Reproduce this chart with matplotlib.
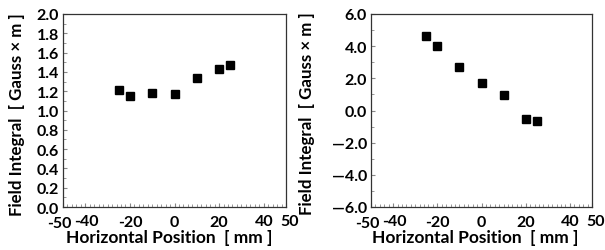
import matplotlib
matplotlib.use("Agg")
import matplotlib.pyplot as plt
from matplotlib.ticker import MultipleLocator, FixedLocator
from matplotlib.transforms import ScaledTranslation

plt.rcParams['font.family'] = ['Lato', 'DejaVu Sans']
plt.rcParams['font.weight'] = 'bold'

x_pos = [-25, -20, -10, 0, 10, 20, 25]
left_vals = [1.21, 1.155, 1.185, 1.17, 1.34, 1.43, 1.47]
right_vals = [4.62, 3.98, 2.72, 1.68, 0.98, -0.51, -0.63]

x_ticks = [-50, -40, -20, 0, 20, 40, 50]
left_yticks = [0.0, 0.2, 0.4, 0.6, 0.8, 1.0, 1.2, 1.4, 1.6, 1.8, 2.0]
right_yticks = [-6.0, -4.0, -2.0, 0.0, 2.0, 4.0, 6.0]

xlabel = "Horizontal Position  [ mm ]"
ylabel = "Field Integral  [ Gauss \u00d7 m ]"

fig = plt.figure(figsize=(6.05, 2.51), dpi=100)
W, H = 605, 251
axL = fig.add_axes([63 / W, 1 - 208 / H, (286 - 63) / W, (208 - 15) / H])
axR = fig.add_axes([371 / W, 1 - 208 / H, (592 - 371) / W, (208 - 15) / H])

# small pixel shifts of individual x tick labels, as in the reference
label_shift = {-50: (-4, -1), -40: (1, 1.5), 40: (0, 1.5), 50: (4, 1.5)}

def style(ax, yticks, ylim, yminor, fmt, ylab_x, ylab_y, xlab_x):
    ax.set_xlim(-50, 50)
    ax.set_ylim(*ylim)
    ax.xaxis.set_major_locator(FixedLocator(x_ticks))
    ax.set_xticklabels([str(t) for t in x_ticks])
    ax.xaxis.set_minor_locator(MultipleLocator(2))
    ax.yaxis.set_major_locator(FixedLocator(yticks))
    ax.set_yticklabels([fmt(t) for t in yticks])
    ax.yaxis.set_minor_locator(MultipleLocator(yminor))
    ax.tick_params(which='both', direction='in', color='#888888', labelsize=11.5)
    ax.tick_params(which='major', length=3, width=0.8, pad=3)
    ax.tick_params(which='minor', length=2, width=0.6)
    ax.tick_params(axis='x', which='major', pad=6)
    ax.tick_params(axis='y', which='both', right=False)
    ax.tick_params(axis='x', which='both', top=False)
    for s in ax.spines.values():
        s.set_color('#333333')
        s.set_linewidth(0.9)
    ax.set_xlabel(xlabel, fontsize=12.5, fontweight='bold')
    ax.set_ylabel(ylabel, fontsize=12.2, fontweight='bold')
    ax.yaxis.set_label_coords(ylab_x, ylab_y)
    ax.xaxis.set_label_coords(xlab_x, -0.115)
    for t, lab in zip(x_ticks, ax.get_xticklabels()):
        if t in label_shift:
            dx, dy = label_shift[t]
            lab.set_transform(lab.get_transform() +
                              ScaledTranslation(dx / 100, dy / 100, fig.dpi_scale_trans))

def fmt_right(t):
    if t < 0:
        return "\u2014" + f"{abs(t):.1f}"
    return f"{t:.1f}"

axL.plot(x_pos, left_vals, 's', color='black', markersize=5.5, linestyle='none')
axR.plot(x_pos, right_vals, 's', color='black', markersize=5.5, linestyle='none')
style(axL, left_yticks, (0, 2.0), 0.1, lambda t: f"{t:.1f}", -0.172, 0.482, 0.478)
style(axR, right_yticks, (-6, 6), 1.0, fmt_right, -0.252, 0.487, 0.47)

fig.savefig("out.png", dpi=100)
